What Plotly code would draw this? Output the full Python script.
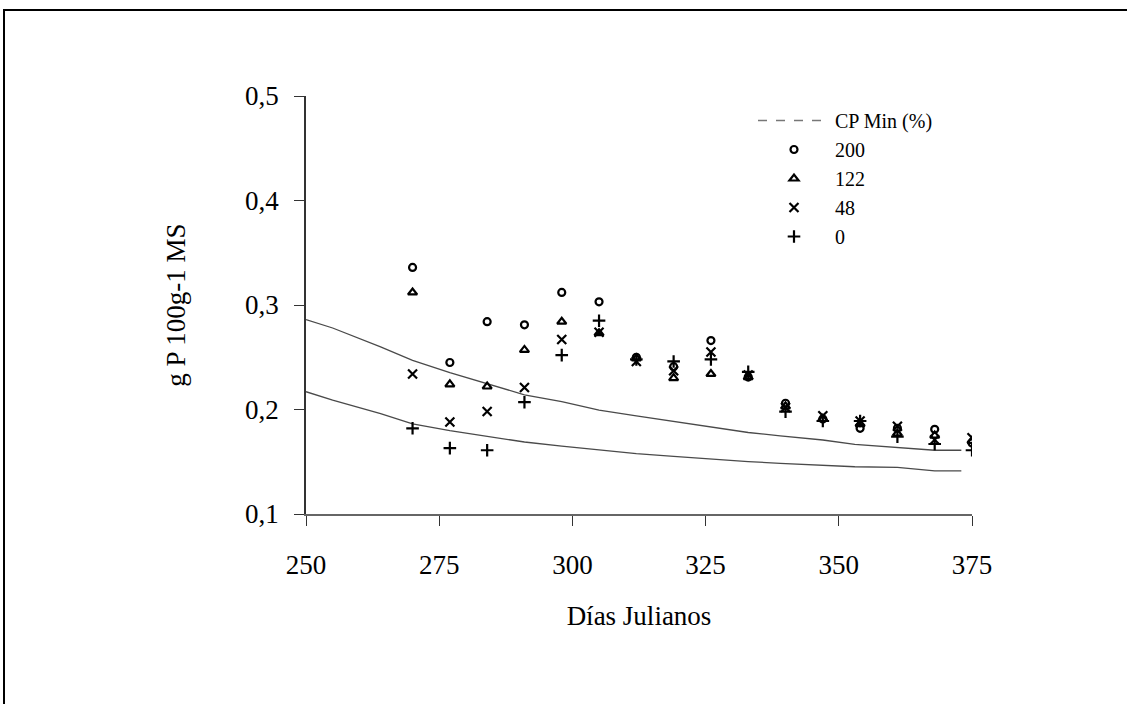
import plotly.graph_objects as go

# ---------------- data ----------------
days = [270, 277, 284, 291, 298, 305, 312, 319, 326, 333, 340, 347, 354, 361, 368, 375]

p200 = [0.336, 0.245, 0.284, 0.281, 0.312, 0.303, 0.250, 0.241, 0.266, 0.231, 0.206, 0.191, 0.182, 0.182, 0.181, 0.168]
p122 = [0.312, 0.224, 0.222, 0.257, 0.284, 0.273, 0.249, 0.230, 0.234, 0.231, 0.203, 0.191, 0.186, 0.177, 0.175, 0.170]
p48 = [0.234, 0.188, 0.198, 0.221, 0.267, 0.274, 0.246, 0.237, 0.255, 0.233, 0.202, 0.194, 0.189, 0.184, 0.171, 0.173]
p0 = [0.182, 0.163, 0.161, 0.207, 0.252, 0.285, 0.248, 0.246, 0.248, 0.236, 0.198, 0.189, 0.189, 0.174, 0.167, 0.161]

curve_days = [250, 255, 264, 270, 277, 284, 291, 298, 305, 312, 319, 326, 333, 339, 347, 353, 361, 368, 373]
cp_upper = [0.286, 0.278, 0.260, 0.247, 0.2354, 0.2246, 0.214, 0.2075, 0.1993, 0.1938, 0.1885, 0.183,
            0.178, 0.1748, 0.1708, 0.1666, 0.1633, 0.161, 0.161]
cp_lower = [0.217, 0.209, 0.196, 0.1862, 0.1797, 0.1741, 0.1689, 0.165, 0.1616, 0.1577, 0.1551, 0.1525,
            0.1502, 0.1485, 0.1469, 0.1452, 0.1446, 0.1413, 0.1413]

x_ticks = [250, 275, 300, 325, 350, 375]
y_ticks = [0.1, 0.2, 0.3, 0.4, 0.5]

series = [("200", p200, "circle-open", 7),
          ("122", p122, "triangle-up-open", 8),
          ("48", p48, "x-thin-open", 9),
          ("0", p0, "cross-thin-open", 9)]

# ---------------- layout geometry ----------------
W, H = 1127, 704
ML, MR, MT, MB = 306, 155, 96, 190
PW, PH = W - ML - MR, H - MT - MB


def px(xp):
    return (xp - ML) / PW


def py(yp):
    return (H - MB - yp) / PH


FONT = "Liberation Serif, Times New Roman, serif"
LINE_COL = "#4a4a4a"

fig = go.Figure()

for yv in (cp_upper, cp_lower):
    fig.add_trace(go.Scatter(x=curve_days, y=yv, mode="lines",
                             line=dict(color=LINE_COL, width=1.3),
                             showlegend=False, hoverinfo="skip"))

# legend entry for the CP Min curves
fig.add_trace(go.Scatter(x=[None], y=[None], mode="lines", name="CP Min (%)",
                         line=dict(color="#777777", width=1.5, dash="dash")))

for name, vals, sym, size in series:
    fig.add_trace(go.Scatter(x=days, y=vals, mode="markers", name=name,
                             marker=dict(symbol=sym, size=size, color="black",
                                         line=dict(color="black", width=2.2))))

fig.update_layout(
    width=W, height=H,
    margin=dict(l=ML, r=MR, t=MT, b=MB, autoexpand=False),
    paper_bgcolor="white", plot_bgcolor="white",
    font=dict(family=FONT, color="black", size=26),
    separators=",.",
    showlegend=True,
    legend=dict(x=px(753), y=py(101), xanchor="left", yanchor="top",
                font=dict(family=FONT, size=20, color="black"),
                bgcolor="rgba(0,0,0,0)", itemwidth=72, borderwidth=0),
    xaxis=dict(range=[250, 375], tickvals=x_ticks, showgrid=False, zeroline=False,
               showline=True, linecolor="#666666", linewidth=1.5,
               ticks="outside", ticklen=10, tickcolor="#333333", tickwidth=1,
               tickfont=dict(family=FONT, size=27), ticklabelstandoff=16,
               title=dict(text="Días Julianos", font=dict(family=FONT, size=27), standoff=27)),
    yaxis=dict(range=[0.1, 0.5], tickvals=y_ticks, tickformat=".1f", showgrid=False,
               zeroline=False, showline=True, linecolor="#333333", linewidth=1.5,
               ticks="outside", ticklen=10, tickcolor="#333333", tickwidth=1,
               tickfont=dict(family=FONT, size=27), ticklabelstandoff=10,
               title=dict(text="g P 100g-1 MS", font=dict(family=FONT, size=27), standoff=52)),
    shapes=[dict(type="rect", xref="paper", yref="paper",
                 x0=px(4), x1=px(1140), y0=py(10), y1=py(720),
                 line=dict(color="black", width=2), fillcolor="rgba(0,0,0,0)", layer="above")],
)

fig.write_html("out.html")
